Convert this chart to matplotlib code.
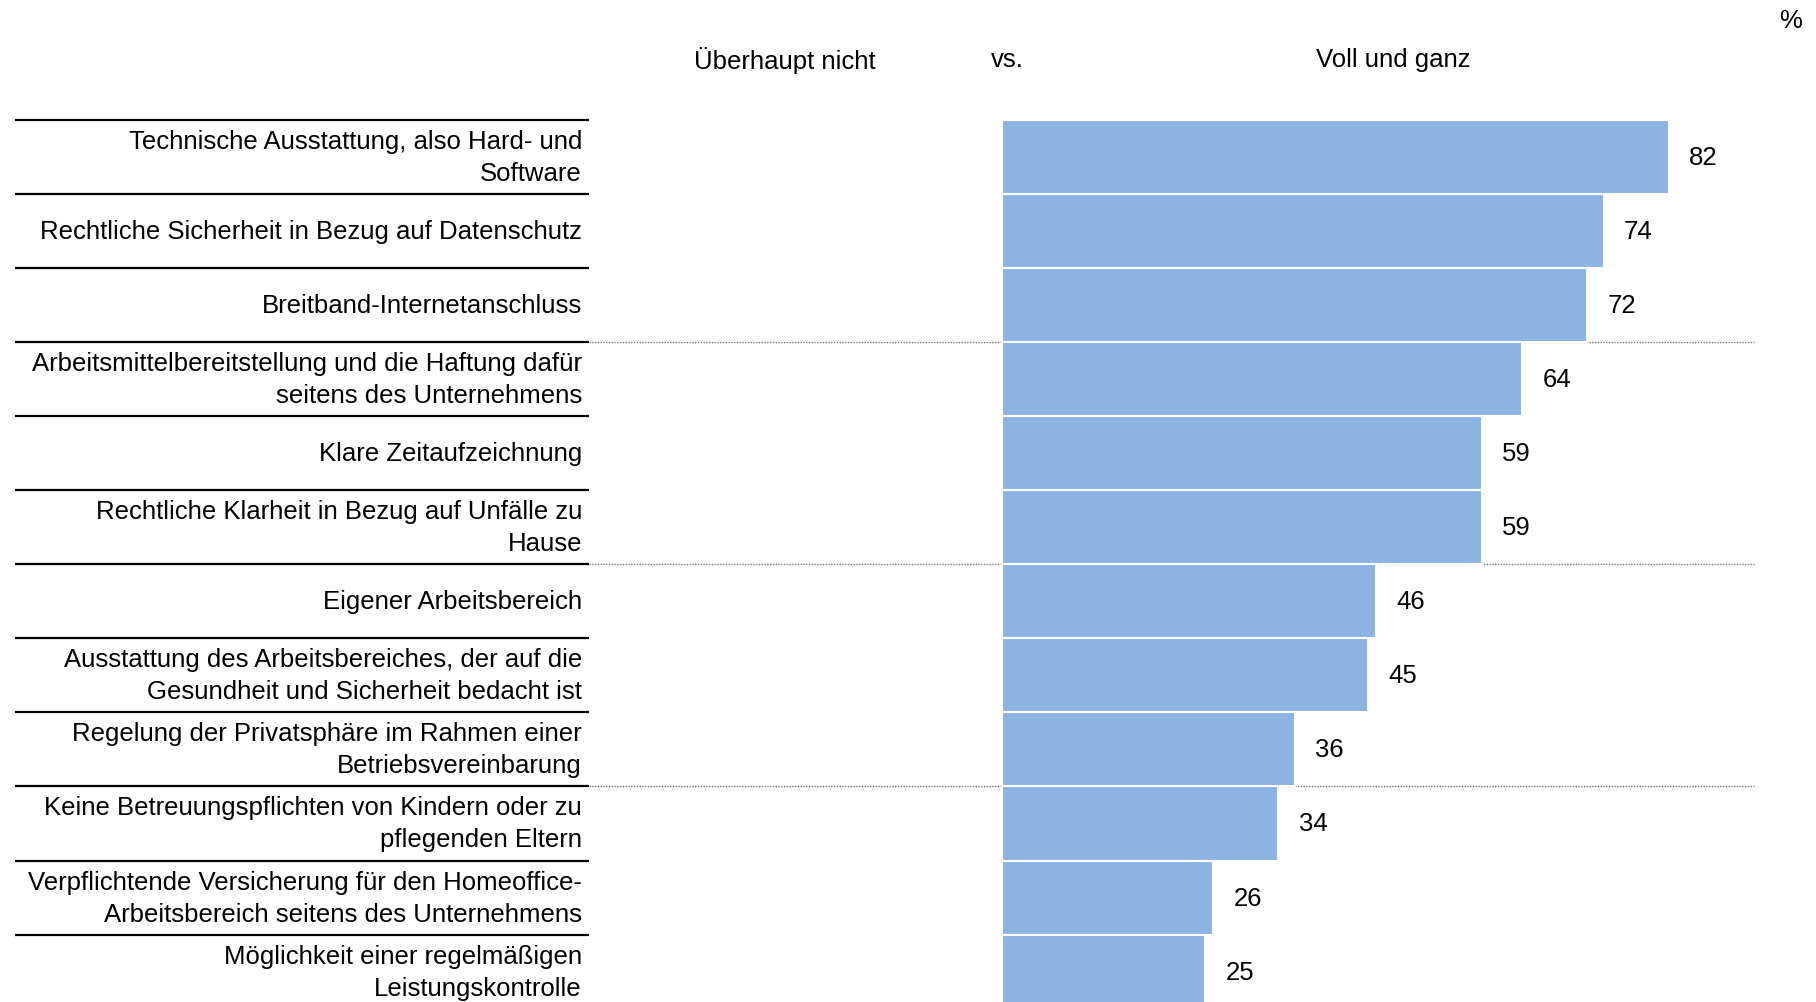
import numpy as np
import matplotlib.pyplot as plt

plt.rcParams['font.family'] = ['Liberation Sans', 'DejaVu Sans']

labels = [
    "Technische Ausstattung, also Hard- und\nSoftware",
    "Rechtliche Sicherheit in Bezug auf Datenschutz",
    "Breitband-Internetanschluss",
    "Arbeitsmittelbereitstellung und die Haftung dafür\nseitens des Unternehmens",
    "Klare Zeitaufzeichnung",
    "Rechtliche Klarheit in Bezug auf Unfälle zu\nHause",
    "Eigener Arbeitsbereich",
    "Ausstattung des Arbeitsbereiches, der auf die\nGesundheit und Sicherheit bedacht ist",
    "Regelung der Privatsphäre im Rahmen einer\nBetriebsvereinbarung",
    "Keine Betreuungspflichten von Kindern oder zu\npflegenden Eltern",
    "Verpflichtende Versicherung für den Homeoffice-\nArbeitsbereich seitens des Unternehmens",
    "Möglichkeit einer regelmäßigen\nLeistungskontrolle",
]
values = [82, 74, 72, 64, 59, 59, 46, 45, 36, 34, 26, 25]
group_ends = [3, 6, 9]

W, H = 1816, 1003
fig = plt.figure(figsize=(W / 100, H / 100), dpi=100)
ax = fig.add_axes([0, 0, 1, 1])

# pixel layout -> data units
x0 = 1002          # px where value 0 sits
ppu = 8.13         # px per value unit
pitch = 74.1       # px per row
top = 120.5        # px of first row top
ax.set_xlim(-x0 / ppu, (W - x0) / ppu)
ytop = -0.5 - top / pitch
ax.set_ylim(ytop + H / pitch, ytop)
ax.axis('off')

fs = 18.5
y = np.arange(len(values))
ax.barh(y, values, height=1.0, color='#8DB3E2', edgecolor='white', linewidth=1.5, zorder=2)

for i, v in enumerate(values):
    ax.text(v + 2.5, i, str(v), va='center', ha='left', fontsize=fs)

lab_x = (582 - x0) / ppu
col_l = (15 - x0) / ppu
col_r = (589 - x0) / ppu
dot_r = (1754 - x0) / ppu
for i, lab in enumerate(labels):
    ax.text(lab_x, i, lab, va='center', ha='right', fontsize=fs, linespacing=1.42)

for b in range(len(values) + 1):
    ax.plot([col_l, col_r], [b - 0.5, b - 0.5], color='black', lw=1.6, zorder=3,
            solid_capstyle='butt', clip_on=False)
for g in group_ends:
    ax.plot([col_r, dot_r], [g - 0.5, g - 0.5], color='#777777', lw=1.0,
            linestyle=(0, (1, 1)), zorder=1)

fig.text(785 / W, 1 - 60 / H, "Überhaupt nicht", ha='center', va='center', fontsize=fs)
fig.text(1007 / W, 1 - 60 / H, "vs.", ha='center', va='center', fontsize=fs)
fig.text(1393 / W, 1 - 60 / H, "Voll und ganz", ha='center', va='center', fontsize=fs)
fig.text(1791 / W, 1 - 21 / H, "%", ha='center', va='center', fontsize=fs)

fig.savefig('out.png', dpi=100)
